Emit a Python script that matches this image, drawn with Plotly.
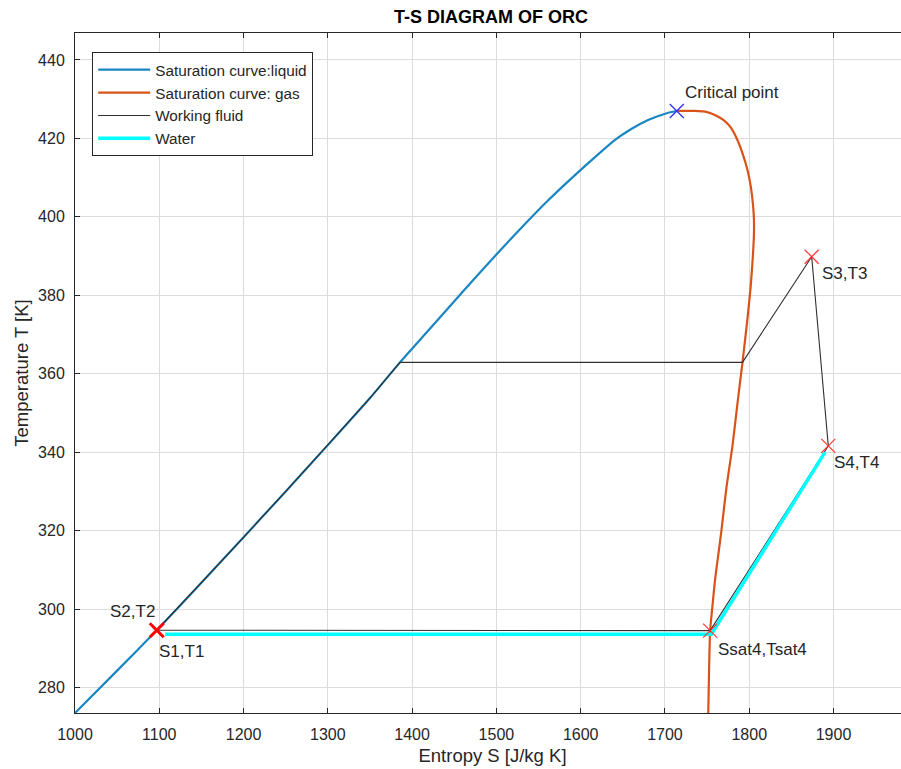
import plotly.graph_objects as go

# ---------------- data ----------------
# saturated liquid line  (entropy J/kg K, temperature K)
S_liq = [1000, 1050, 1097, 1150, 1200, 1250, 1300, 1350, 1385.6, 1420, 1460,
         1500, 1530, 1560, 1590, 1620, 1640, 1660, 1680, 1695, 1705, 1714]
T_liq = [273.5, 284.3, 294.6, 306.7, 318.3, 330.0, 341.8, 353.8, 362.9, 371.2, 380.9,
         390.4, 397.3, 403.9, 410.0, 415.8, 419.5, 422.4, 424.7, 425.9, 426.6, 427.0]

# saturated vapour line
S_gas = [1714, 1735, 1750, 1761, 1770, 1778, 1786, 1792, 1798, 1802, 1804.5,
         1805.6, 1805.5, 1804, 1801.7, 1797.7, 1792, 1786, 1780, 1773, 1767,
         1763.2, 1759.4, 1756.2, 1753.6, 1752.3, 1751.4]
T_gas = [427.0, 427.0, 426.7, 425.8, 424.6, 422.8, 419.6, 416.2, 411.9, 407.5, 403.0,
         399.2, 395.0, 389.0, 382.2, 373.7, 362.9, 352.4, 341.4, 331.1, 320.0,
         313.7, 307.4, 300.5, 294.5, 284.0, 273.5]

# cycle state points
state_names = ["S1,T1", "S2,T2", "S3,T3", "S4,T4", "Ssat4,Tsat4"]
state_S = [1097, 1097, 1874.1, 1893.8, 1753.6]
state_T = [294.6, 294.6, 389.85, 341.6, 294.5]

# evaporation plateau
T_evap = 362.9
S_evap_liq = 1385.6
S_evap_gas = 1792

# water (condenser side)
S_water = [1890, 1755, 1107]
T_water = [340.0, 293.6, 293.6]

# critical point
S_crit = 1714
T_crit = 427.0

x_ticks = [1000, 1100, 1200, 1300, 1400, 1500, 1600, 1700, 1800, 1900]
y_ticks = [280, 300, 320, 340, 360, 380, 400, 420, 440]

# ---------------- build working-fluid path ----------------
S1, S2, S3, S4, S4s = state_S
T1, T2, T3, T4, T4s = state_T
pump_part = [(s, t) for s, t in zip(S_liq, T_liq) if S2 < s < S_evap_liq]
wf_S = [S1, S2] + [p[0] for p in pump_part] + [S_evap_liq, S_evap_gas, S3, S4, S4s, S1]
wf_T = [T1, T2] + [p[1] for p in pump_part] + [T_evap, T_evap, T3, T4, T4s, T1]

FONT = "Liberation Sans, Arial, Helvetica, sans-serif"
TXT = "#262626"

W, H = 910, 769          # a bit wider than the window: the right edge is cropped like the reference
L, R, T, B = 75, 0, 33, 56
PW, PH = W - L - R, H - T - B

fig = go.Figure()
fig.add_trace(go.Scatter(x=S_liq, y=T_liq, mode="lines", name="Saturation curve:liquid",
                         line=dict(color="#1a86c2", width=2.2, shape="spline", smoothing=0.6)))
fig.add_trace(go.Scatter(x=S_gas, y=T_gas, mode="lines", name="Saturation curve: gas",
                         line=dict(color="#D95319", width=2.2, shape="spline", smoothing=0.6)))
fig.add_trace(go.Scatter(x=wf_S, y=wf_T, mode="lines", name="Working fluid",
                         line=dict(color="#303030", width=1.1)))
fig.add_trace(go.Scatter(x=S_water, y=T_water, mode="lines", name="Water",
                         line=dict(color="#00FFFF", width=3.5)))

# state markers
fig.add_trace(go.Scatter(x=[state_S[0]], y=[state_T[0]], mode="markers", showlegend=False,
                         marker=dict(symbol="x-thin", size=14, line=dict(color="red", width=3))))
fig.add_trace(go.Scatter(x=state_S[2:], y=state_T[2:], mode="markers", showlegend=False,
                         marker=dict(symbol="x-thin", size=14,
                                     line=dict(color="rgba(255,40,40,0.9)", width=1.3))))
fig.add_trace(go.Scatter(x=[S_crit], y=[T_crit], mode="markers", showlegend=False,
                         marker=dict(symbol="x-thin", size=14,
                                     line=dict(color="#3030ff", width=1.3))))

# labels (offsets from the points)
label_specs = [
    ("Critical point", S_crit + 7, T_crit + 4.7, "left"),
    (state_names[0], state_S[0], state_T[0] - 5.3, "left"),
    (state_names[1], state_S[1], state_T[1] + 4.7, "right"),
    (state_names[2], state_S[2] + 10, state_T[2] - 4.2, "left"),
    (state_names[3], state_S[3] + 4.4, state_T[3] - 4.2, "left"),
    (state_names[4], state_S[4] + 7, state_T[4] - 4.9, "left"),
]
for txt, x, y, anchor in label_specs:
    fig.add_annotation(x=x, y=y, text=txt, showarrow=False, xanchor=anchor, yanchor="middle",
                       font=dict(family=FONT, size=17, color=TXT))

fig.update_layout(
    width=W, height=H,
    margin=dict(l=L, r=R, t=T, b=B),
    paper_bgcolor="white", plot_bgcolor="white",
    font=dict(family=FONT, color=TXT),
    title=dict(text="<b>T-S DIAGRAM OF ORC</b>", x=491 / W, xanchor="center",
               y=1 - 16.5 / H, yanchor="middle", font=dict(family=FONT, size=18, color="#000")),
    legend=dict(x=(92 - L) / PW, y=(H - B - 52) / PH, xanchor="left", yanchor="top",
                bgcolor="white", bordercolor="#262626", borderwidth=1.2,
                font=dict(family=FONT, size=15.3, color=TXT), itemwidth=52,
                tracegroupgap=0),
    showlegend=True,
)
fig.update_xaxes(range=[1000, 1000 + PW / 0.8428], tickvals=x_ticks, ticks="inside",
                 ticklen=5, tickcolor=TXT, showline=True, linecolor=TXT, linewidth=1,
                 mirror="ticks", showgrid=True, gridcolor="#dcdcdc", gridwidth=1,
                 zeroline=False, tickfont=dict(family=FONT, size=16, color=TXT),
                 ticklabelstandoff=7, automargin=False,
                 title=dict(text="Entropy S [J/kg K]", font=dict(family=FONT, size=18.5, color=TXT),
                            standoff=6))
fig.update_yaxes(range=[273.5, 273.5 + PH / 3.922], tickvals=y_ticks, ticks="inside",
                 ticklen=5, tickcolor=TXT, showline=True, linecolor=TXT, linewidth=1,
                 mirror=False, showgrid=True, gridcolor="#dcdcdc", gridwidth=1,
                 zeroline=False, tickfont=dict(family=FONT, size=16, color=TXT),
                 ticklabelstandoff=6, automargin=False,
                 title=dict(text="Temperature T [K]", font=dict(family=FONT, size=18.5, color=TXT),
                            standoff=4))

fig.write_html(
    "out.html", config={"displayModeBar": False},
    post_script=("document.documentElement.style.overflow='hidden';"
                 "document.body.style.margin='0';document.body.style.overflow='hidden';"))
